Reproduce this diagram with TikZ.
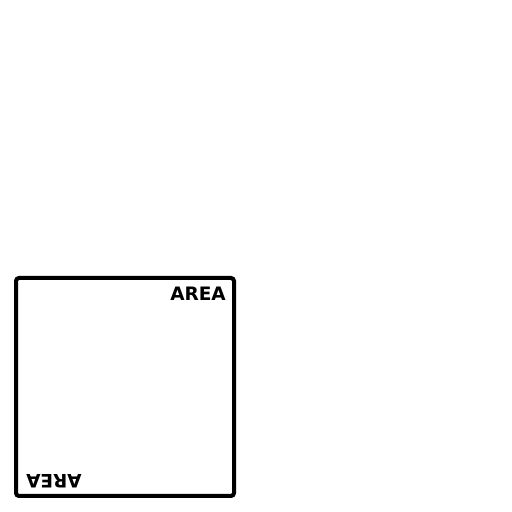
\documentclass[tikz,border=0pt]{standalone}
\usepackage{fontspec}
\setmainfont{DejaVu Sans}
\usepackage{tikz}
\usetikzlibrary{positioning}
\tikzset{
  areabox/.style={draw, line width=4pt, rounded corners=3pt,
    minimum width=218pt, minimum height=218pt, inner sep=0pt},
  arealabel/.style={font=\bfseries\fontsize{18.5}{20}\selectfont,
    inner sep=0pt, text depth=0pt}
}
\begin{document}
\begin{tikzpicture}[x=1pt, y=1pt]
  \useasboundingbox (0,0) rectangle (512,512);
  \node[areabox] (plot) at (125,125) {};
  \node[arealabel, anchor=base east] (lblup) at (226,211) {AREA};
  \node[arealabel, anchor=base east, rotate=180] (lbldown) at (26,38) {AREA};
\end{tikzpicture}
\end{document}
